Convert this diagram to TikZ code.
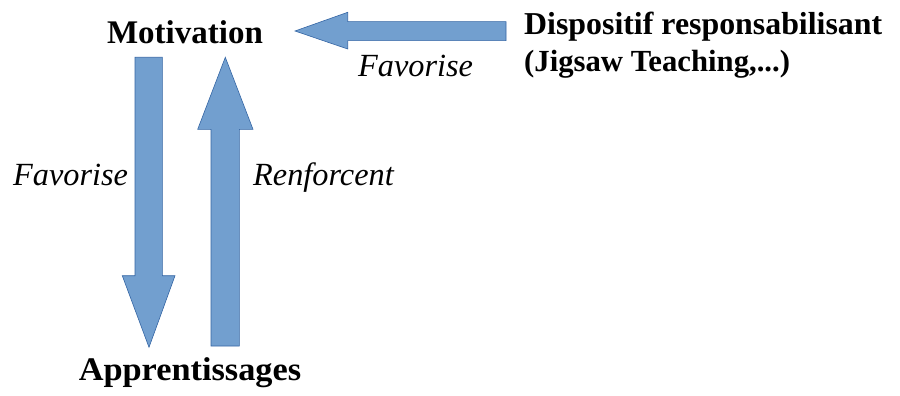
\documentclass[tikz,border=0pt]{standalone}
\usepackage{fontspec}
\setmainfont{Liberation Serif}
\definecolor{arrowfill}{HTML}{729FCF}
\definecolor{arrowline}{HTML}{3465A4}
\tikzset{
  bigarrow/.style={fill=arrowfill, draw=arrowline, line width=0.6pt, line join=miter},
  boldlbl/.style={font=\fontsize{33}{37}\selectfont\bfseries, inner sep=0pt, anchor=base},
  itallbl/.style={font=\fontsize{32.3}{36}\selectfont\itshape, inner sep=0pt, anchor=base west},
}
\begin{document}
\begin{tikzpicture}[x=1pt,y=-1pt]
\useasboundingbox (0,0) rectangle (900,396);
% text nodes
\node[boldlbl] (mot) at (185,44) {Motivation};
\node[boldlbl, xscale=1.04] (app) at (190,380) {Apprentissages};
\node[font=\fontsize{30.7}{36.7}\selectfont\bfseries, inner sep=0pt, anchor=base west, align=left] (disp) at (524,71) {\resizebox{358pt}{!}{Dispositif responsabilisant}\\(Jigsaw Teaching,...)};
\node[itallbl] (fav1) at (13,185) {Favorise};
\node[itallbl] (renf) at (253,185) {Renforcent};
\node[itallbl] (fav2) at (358,76.7) {Favorise};
% down arrow (Motivation -> Apprentissages)
\draw[bigarrow] (135,57.3) -- (162.3,57.3) -- (162.3,275.7) -- (175,275.7) -- (149,347.3) -- (122.3,275.7) -- (135,275.7) -- cycle;
% up arrow (Apprentissages -> Motivation)
\draw[bigarrow] (211,346) -- (239.3,346) -- (239.3,129.3) -- (253,129.3) -- (225.3,57.3) -- (197.7,129.3) -- (211,129.3) -- cycle;
% left arrow (Dispositif -> Motivation)
\draw[bigarrow] (506,21.7) -- (506,40.7) -- (347.7,40.7) -- (347.7,49) -- (295,31) -- (347.7,12.3) -- (347.7,21.7) -- cycle;
\end{tikzpicture}
\end{document}
